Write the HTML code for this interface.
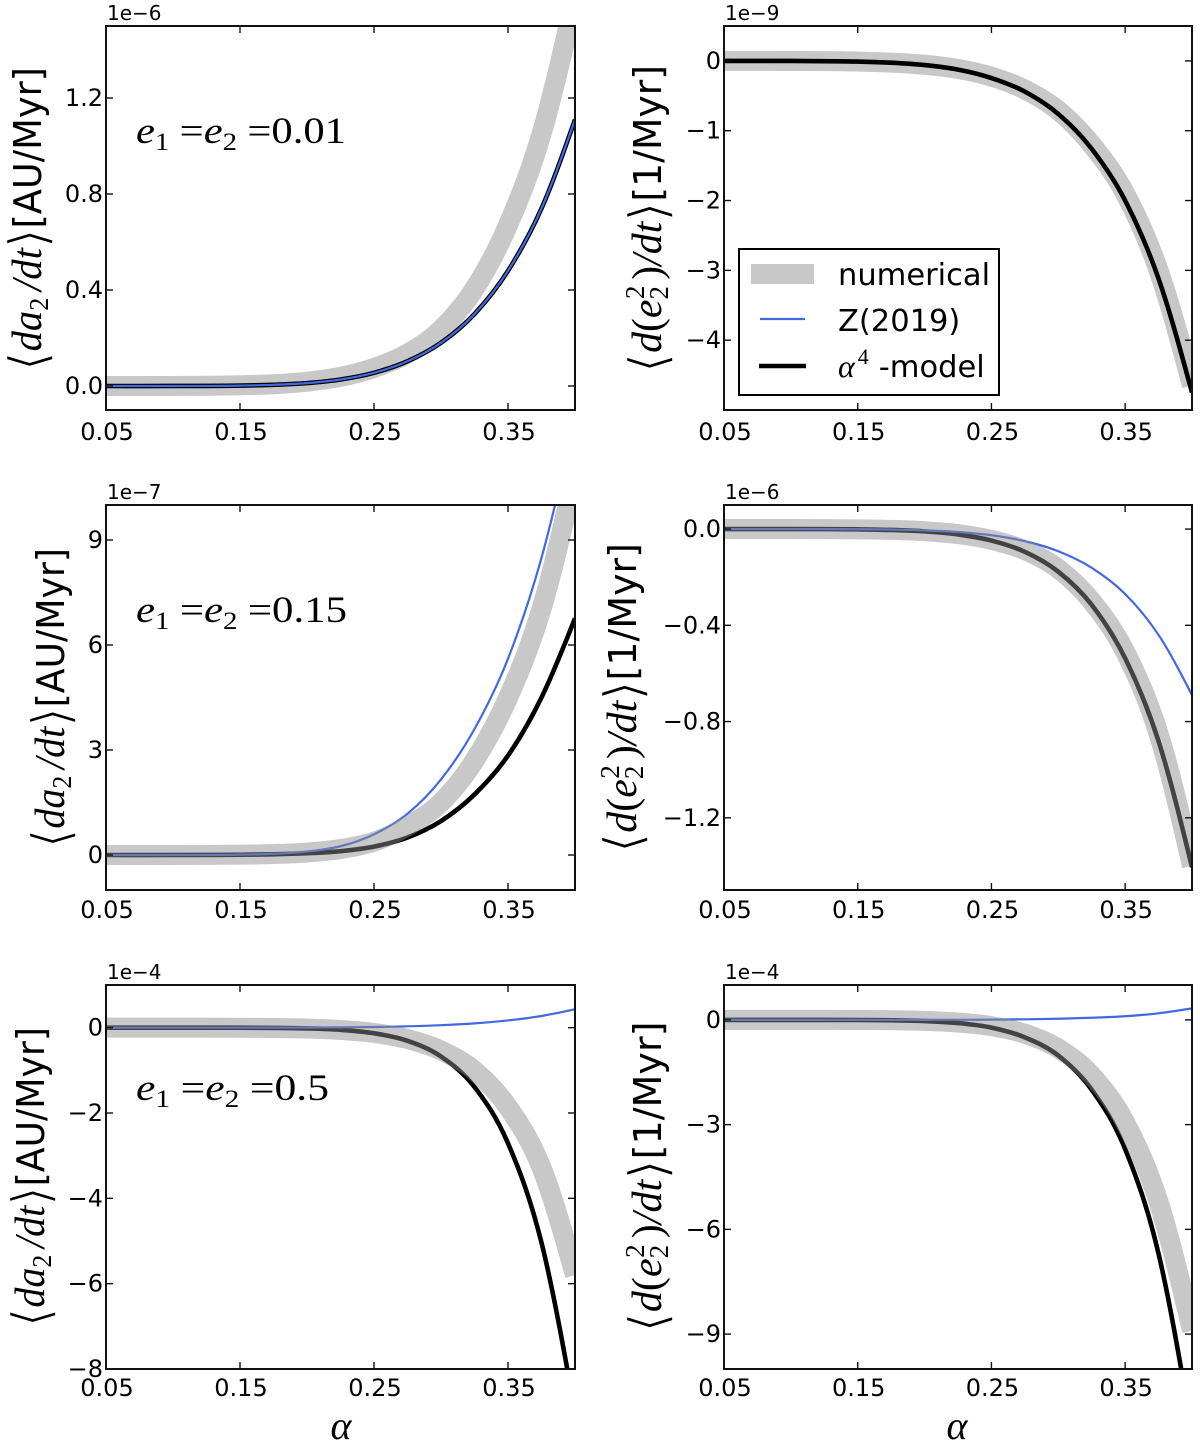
<!DOCTYPE html>
<html lang="en">
<head>
<meta charset="utf-8">
<title>Orbital evolution rates versus alpha</title>
<style>
  html, body { margin: 0; padding: 0; background: #fff; }
  svg { display: block; }
  text { fill: #000; }
  .sans { font-family: "DejaVu Sans", "Liberation Sans", sans-serif; }
  .math { font-family: "Liberation Serif", "DejaVu Serif", serif; font-style: italic; }
  .roman { font-family: "Liberation Serif", "DejaVu Serif", serif; }
  .br { stroke: #fff; stroke-width: 1.3px; }
</style>
</head>
<body>
<svg id="figure" xmlns="http://www.w3.org/2000/svg" width="1200" height="1444" viewBox="0 0 1200 1444">
  <defs id="clips"></defs>
  <rect x="0" y="0" width="1200" height="1444" fill="#fff"/>
  <g id="panels"></g>

  <!-- y-axis titles -->
  <text transform="translate(41,219) rotate(-90)" text-anchor="middle" textLength="304" lengthAdjust="spacingAndGlyphs"><tspan class="sans br" font-size="52" dy="5">⟨</tspan><tspan class="math" font-size="42" dy="-5">da</tspan><tspan class="roman" font-size="27" dy="7">2</tspan><tspan class="math" font-size="42" dy="-7" dx="7">/dt</tspan><tspan class="sans br" font-size="52" dy="5">⟩</tspan><tspan class="sans" font-size="38" dy="-5">[AU/Myr]</tspan></text>
  <text transform="translate(661,219) rotate(-90)" text-anchor="middle" textLength="308" lengthAdjust="spacingAndGlyphs"><tspan class="sans br" font-size="52" dy="5">⟨</tspan><tspan class="math" font-size="42" dy="-5">d</tspan><tspan class="roman" font-size="42">(</tspan><tspan class="math" font-size="42">e</tspan><tspan class="roman" font-size="27" dy="7">2</tspan><tspan class="roman" font-size="27" dy="-24" dx="-13">2</tspan><tspan class="roman" font-size="42" dy="17" dx="6">)</tspan><tspan class="math" font-size="42">/dt</tspan><tspan class="sans br" font-size="52" dy="5">⟩</tspan><tspan class="sans" font-size="38" dy="-5">[1/Myr]</tspan></text>
  <text transform="translate(64,698) rotate(-90)" text-anchor="middle" textLength="300" lengthAdjust="spacingAndGlyphs"><tspan class="sans br" font-size="52" dy="5">⟨</tspan><tspan class="math" font-size="42" dy="-5">da</tspan><tspan class="roman" font-size="27" dy="7">2</tspan><tspan class="math" font-size="42" dy="-7" dx="7">/dt</tspan><tspan class="sans br" font-size="52" dy="5">⟩</tspan><tspan class="sans" font-size="38" dy="-5">[AU/Myr]</tspan></text>
  <text transform="translate(636,698) rotate(-90)" text-anchor="middle" textLength="310" lengthAdjust="spacingAndGlyphs"><tspan class="sans br" font-size="52" dy="5">⟨</tspan><tspan class="math" font-size="42" dy="-5">d</tspan><tspan class="roman" font-size="42">(</tspan><tspan class="math" font-size="42">e</tspan><tspan class="roman" font-size="27" dy="7">2</tspan><tspan class="roman" font-size="27" dy="-24" dx="-13">2</tspan><tspan class="roman" font-size="42" dy="17" dx="6">)</tspan><tspan class="math" font-size="42">/dt</tspan><tspan class="sans br" font-size="52" dy="5">⟩</tspan><tspan class="sans" font-size="38" dy="-5">[1/Myr]</tspan></text>
  <text transform="translate(44,1177) rotate(-90)" text-anchor="middle" textLength="300" lengthAdjust="spacingAndGlyphs"><tspan class="sans br" font-size="52" dy="5">⟨</tspan><tspan class="math" font-size="42" dy="-5">da</tspan><tspan class="roman" font-size="27" dy="7">2</tspan><tspan class="math" font-size="42" dy="-7" dx="7">/dt</tspan><tspan class="sans br" font-size="52" dy="5">⟩</tspan><tspan class="sans" font-size="38" dy="-5">[AU/Myr]</tspan></text>
  <text transform="translate(661,1177) rotate(-90)" text-anchor="middle" textLength="311" lengthAdjust="spacingAndGlyphs"><tspan class="sans br" font-size="52" dy="5">⟨</tspan><tspan class="math" font-size="42" dy="-5">d</tspan><tspan class="roman" font-size="42">(</tspan><tspan class="math" font-size="42">e</tspan><tspan class="roman" font-size="27" dy="7">2</tspan><tspan class="roman" font-size="27" dy="-24" dx="-13">2</tspan><tspan class="roman" font-size="42" dy="17" dx="6">)</tspan><tspan class="math" font-size="42">/dt</tspan><tspan class="sans br" font-size="52" dy="5">⟩</tspan><tspan class="sans" font-size="38" dy="-5">[1/Myr]</tspan></text>

  <!-- eccentricity annotations -->
  <text x="136" y="143" textLength="210" lengthAdjust="spacingAndGlyphs"><tspan class="math" font-size="37">e</tspan><tspan class="roman" font-size="25" dy="7">1</tspan><tspan class="roman" font-size="37" dy="-7" dx="9">=</tspan><tspan class="math" font-size="37">e</tspan><tspan class="roman" font-size="25" dy="7">2</tspan><tspan class="roman" font-size="37" dy="-7" dx="9">=0.01</tspan></text>
  <text x="136" y="622" textLength="211" lengthAdjust="spacingAndGlyphs"><tspan class="math" font-size="37">e</tspan><tspan class="roman" font-size="25" dy="7">1</tspan><tspan class="roman" font-size="37" dy="-7" dx="9">=</tspan><tspan class="math" font-size="37">e</tspan><tspan class="roman" font-size="25" dy="7">2</tspan><tspan class="roman" font-size="37" dy="-7" dx="9">=0.15</tspan></text>
  <text x="136" y="1100" textLength="193" lengthAdjust="spacingAndGlyphs"><tspan class="math" font-size="37">e</tspan><tspan class="roman" font-size="25" dy="7">1</tspan><tspan class="roman" font-size="37" dy="-7" dx="9">=</tspan><tspan class="math" font-size="37">e</tspan><tspan class="roman" font-size="25" dy="7">2</tspan><tspan class="roman" font-size="37" dy="-7" dx="9">=0.5</tspan></text>

  <!-- x-axis titles -->
  <text class="math" x="341" y="1439" font-size="40" text-anchor="middle">α</text>
  <text class="math" x="957" y="1439" font-size="40" text-anchor="middle">α</text>

  <!-- legend -->
  <g>
    <rect x="739" y="249" width="260" height="146" fill="#fff" stroke="#000" stroke-width="2"/>
    <rect x="751" y="264" width="63" height="20" fill="#c8c8c8"/>
    <text class="sans" x="838" y="285" font-size="30.5">numerical</text>
    <line x1="760" y1="319" x2="805" y2="319" stroke="#4169e1" stroke-width="2.2"/>
    <text class="sans" x="838" y="331" font-size="30.5">Z(2019)</text>
    <line x1="759" y1="366" x2="806" y2="366" stroke="#000" stroke-width="4.6"/>
    <text x="838" y="377"><tspan class="math" font-size="32">α</tspan><tspan class="roman" font-size="22" dy="-13" dx="3">4</tspan><tspan class="sans" font-size="30.5" dy="13" dx="10">-model</tspan></text>
  </g>
</svg>

<script>
// ---- shared x samples (alpha) ----
const alphaValues = [0.05, 0.10, 0.15, 0.175, 0.20, 0.225, 0.25, 0.275, 0.30, 0.325, 0.35, 0.375, 0.40];
const xTicks = [0.05, 0.15, 0.25, 0.35];
const xTickLabels = ['0.05', '0.15', '0.25', '0.35'];

// ---- panel 1: da2/dt, e = 0.01 (x 1e-6) ----
const a1Numerical = [0, 0.0002, 0.003, 0.0074, 0.018, 0.038, 0.075, 0.135, 0.235, 0.405, 0.67, 1.05, 1.62];
const a1Zhou = [0, 0.0001, 0.0017, 0.005, 0.012, 0.027, 0.055, 0.103, 0.18, 0.30, 0.48, 0.74, 1.11];
const a1Model = [0, 0.0001, 0.0017, 0.005, 0.012, 0.027, 0.055, 0.103, 0.18, 0.30, 0.48, 0.74, 1.11];
const a1Ticks = [0, 0.4, 0.8, 1.2];
const a1TickLabels = ['0.0', '0.4', '0.8', '1.2'];

// ---- panel 2: d(e2^2)/dt, e = 0.01 (x 1e-9) ----
const e1Numerical = [0, -0.001, -0.009, -0.024, -0.055, -0.115, -0.225, -0.41, -0.71, -1.20, -1.90, -3.00, -4.65];
const e1Zhou = [0, -0.001, -0.01, -0.026, -0.06, -0.125, -0.245, -0.44, -0.76, -1.26, -2.00, -3.12, -4.75];
const e1Model = [0, -0.001, -0.01, -0.026, -0.06, -0.125, -0.245, -0.44, -0.76, -1.26, -2.00, -3.12, -4.75];
const e1Ticks = [0, -1, -2, -3, -4];
const e1TickLabels = ['0', '\u22121', '\u22122', '\u22123', '\u22124'];

// ---- panel 3: da2/dt, e = 0.15 (x 1e-7) ----
const a2Numerical = [0, 0, 0.01, 0.028, 0.07, 0.17, 0.38, 0.82, 1.50, 2.70, 4.49, 7.03, 10.9];
const a2Zhou = [0, 0, 0.01, 0.035, 0.098, 0.25, 0.59, 1.18, 2.16, 3.60, 5.61, 8.49, 12.5];
const a2Model = [0, 0, 0.007, 0.02, 0.05, 0.11, 0.24, 0.50, 0.97, 1.73, 2.84, 4.50, 6.76];
const a2Ticks = [0, 3, 6, 9];
const a2TickLabels = ['0', '3', '6', '9'];

// ---- panel 4: d(e2^2)/dt, e = 0.15 (x 1e-6) ----
const e2Numerical = [0, 0, -0.0012, -0.0035, -0.009, -0.021, -0.045, -0.088, -0.165, -0.30, -0.51, -0.85, -1.40];
const e2Zhou = [0, 0, -0.0007, -0.0021, -0.0054, -0.0123, -0.0257, -0.0501, -0.0922, -0.161, -0.27, -0.44, -0.69];
const e2Model = [0, 0, -0.0012, -0.0037, -0.0096, -0.0223, -0.0478, -0.0945, -0.177, -0.315, -0.537, -0.882, -1.405];
const e2Ticks = [0, -0.4, -0.8, -1.2];
const e2TickLabels = ['0.0', '\u22120.4', '\u22120.8', '\u22121.2'];

// ---- panel 5: da2/dt, e = 0.5 (x 1e-4) ----
const a3Numerical = [0, 0, -0.0021, -0.0072, -0.021, -0.0535, -0.124, -0.267, -0.535, -1.01, -1.86, -3.28, -5.80];
const a3Zhou = [0, 0, 0.0003, 0.0013, 0.0034, 0.0077, 0.016, 0.0313, 0.0575, 0.1005, 0.17, 0.274, 0.43];
const a3Model = [0, 0, -0.0013, -0.0053, -0.0176, -0.0507, -0.131, -0.309, -0.676, -1.39, -2.71, -5.04, -9.00];
const a3Ticks = [0, -2, -4, -6, -8];
const a3TickLabels = ['0', '\u22122', '\u22124', '\u22126', '\u22128'];

// ---- panel 6: d(e2^2)/dt, e = 0.5 (x 1e-4) ----
const e3Numerical = [0, 0, -0.0026, -0.0091, -0.0283, -0.0747, -0.18, -0.397, -0.817, -1.59, -2.94, -5.21, -8.90];
const e3Zhou = [0, 0, 0.0001, 0.0004, 0.0013, 0.0033, 0.0077, 0.0165, 0.033, 0.0625, 0.105, 0.19, 0.33];
const e3Model = [0, 0, -0.003, -0.01, -0.032, -0.09, -0.22, -0.50, -1.02, -2.00, -3.70, -6.70, -11.8];
const e3Ticks = [0, -3, -6, -9];
const e3TickLabels = ['0', '\u22123', '\u22126', '\u22129'];

// ---- layout ----
const xDomain = [0.05, 0.40];
const panels = [
  { id: 'a-low-e',  box: [106, 26, 575, 410],   yDomain: [-0.1, 1.5],  exp: '1e\u22126', numerical: a1Numerical, zhou: a1Zhou, model: a1Model, ticks: a1Ticks, labels: a1TickLabels, greyOnTop: false, xLabelY: 440 },
  { id: 'e-low-e',  box: [724, 26, 1192, 410],  yDomain: [-5, 0.5],    exp: '1e\u22129', numerical: e1Numerical, zhou: e1Zhou, model: e1Model, ticks: e1Ticks, labels: e1TickLabels, greyOnTop: false, xLabelY: 440 },
  { id: 'a-mid-e',  box: [106, 505, 575, 890],  yDomain: [-1, 10],     exp: '1e\u22127', numerical: a2Numerical, zhou: a2Zhou, model: a2Model, ticks: a2Ticks, labels: a2TickLabels, greyOnTop: true,  xLabelY: 918 },
  { id: 'e-mid-e',  box: [724, 505, 1192, 890], yDomain: [-1.5, 0.1],  exp: '1e\u22126', numerical: e2Numerical, zhou: e2Zhou, model: e2Model, ticks: e2Ticks, labels: e2TickLabels, greyOnTop: true,  xLabelY: 918 },
  { id: 'a-high-e', box: [106, 985, 575, 1369], yDomain: [-8, 1],      exp: '1e\u22124', numerical: a3Numerical, zhou: a3Zhou, model: a3Model, ticks: a3Ticks, labels: a3TickLabels, greyOnTop: true,  xLabelY: 1396 },
  { id: 'e-high-e', box: [724, 985, 1192, 1369], yDomain: [-10, 1],    exp: '1e\u22124', numerical: e3Numerical, zhou: e3Zhou, model: e3Model, ticks: e3Ticks, labels: e3TickLabels, greyOnTop: true,  xLabelY: 1396 }
];

const NS = 'http://www.w3.org/2000/svg';
function make(parent, tag, attrs) {
  const el = document.createElementNS(NS, tag);
  for (const k in attrs) el.setAttribute(k, attrs[k]);
  parent.appendChild(el);
  return el;
}

function smoothPath(values, sx, sy) {
  const xs = alphaValues.map(sx);
  const ys = values.map(sy);
  const n = xs.length;
  const slope = [];
  for (let i = 1; i < n - 1; i++) {
    // weighted three-point derivative, correct for uneven sample spacing
    const h0 = xs[i] - xs[i - 1], h1 = xs[i + 1] - xs[i];
    const s0 = (ys[i] - ys[i - 1]) / h0, s1 = (ys[i + 1] - ys[i]) / h1;
    slope[i] = (s0 * h1 + s1 * h0) / (h0 + h1);
  }
  slope[0] = (3 * (ys[1] - ys[0]) / (xs[1] - xs[0]) - slope[1]) / 2;
  slope[n - 1] = (3 * (ys[n - 1] - ys[n - 2]) / (xs[n - 1] - xs[n - 2]) - slope[n - 2]) / 2;
  let d = 'M' + xs[0].toFixed(2) + ' ' + ys[0].toFixed(2);
  for (let i = 0; i < n - 1; i++) {
    const dx = (xs[i + 1] - xs[i]) / 3;
    d += ' C' + (xs[i] + dx).toFixed(2) + ' ' + (ys[i] + slope[i] * dx).toFixed(2) +
         ' ' + (xs[i + 1] - dx).toFixed(2) + ' ' + (ys[i + 1] - slope[i + 1] * dx).toFixed(2) +
         ' ' + xs[i + 1].toFixed(2) + ' ' + ys[i + 1].toFixed(2);
  }
  return d;
}

const root = document.getElementById('panels');
const defs = document.getElementById('clips');

panels.forEach(function (p) {
  const left = p.box[0], top = p.box[1], right = p.box[2], bottom = p.box[3];
  const sx = function (v) { return left + (v - xDomain[0]) / (xDomain[1] - xDomain[0]) * (right - left); };
  const sy = function (v) { return bottom - (v - p.yDomain[0]) / (p.yDomain[1] - p.yDomain[0]) * (bottom - top); };

  const clip = make(defs, 'clipPath', { id: 'clip-' + p.id });
  make(clip, 'rect', { x: left, y: top, width: right - left, height: bottom - top });

  const g = make(root, 'g', {});
  
  

  const plot = make(g, 'g', { 'clip-path': 'url(#clip-' + p.id + ')' });
  
  

  function drawNumerical() {
    const el = make(plot, 'path', { d: smoothPath(p.numerical, sx, sy), fill: 'none', stroke: '#8d8d8d', 'stroke-opacity': '0.48', 'stroke-width': '20', 'stroke-linecap': 'butt', 'stroke-linejoin': 'round' });
    
    
  }
  function drawModel() {
    const el = make(plot, 'path', { d: smoothPath(p.model, sx, sy), fill: 'none', stroke: '#000', 'stroke-width': '4.6' });
    
    
  }
  function drawZhou() {
    const el = make(plot, 'path', { d: smoothPath(p.zhou, sx, sy), fill: 'none', stroke: '#4169e1', 'stroke-width': '2.2' });
    
    
  }
  if (p.greyOnTop) {
    drawModel();
    drawZhou();
    drawNumerical();
  } else {
    drawNumerical();
    drawModel();
    if (p.id === 'a-low-e') drawZhou();
  }

  const tickColor = '#111';
  xTicks.forEach(function (t, i) {
    const x = sx(t);
    const bt = make(g, 'line', { x1: x, x2: x, y1: bottom, y2: bottom - 7, stroke: tickColor, 'stroke-width': '1.4' });
    
    
    const tt = make(g, 'line', { x1: x, x2: x, y1: top, y2: top + 7, stroke: tickColor, 'stroke-width': '1.4' });
    
    
    const lab = make(g, 'text', { x: x + 1, y: p.xLabelY, 'text-anchor': 'middle', 'font-size': '24', class: 'sans' });
    
    
    lab.textContent = xTickLabels[i];
  });
  p.ticks.forEach(function (t, i) {
    const y = sy(t);
    const lt = make(g, 'line', { x1: left, x2: left + 7, y1: y, y2: y, stroke: tickColor, 'stroke-width': '1.4' });
    
    
    const rt = make(g, 'line', { x1: right, x2: right - 7, y1: y, y2: y, stroke: tickColor, 'stroke-width': '1.4' });
    
    
    const lab = make(g, 'text', { x: left - 3, y: y + 8, 'text-anchor': 'end', 'font-size': '24', class: 'sans' });
    
    
    lab.textContent = p.labels[i];
  });

  const frame = make(g, 'rect', { x: left, y: top, width: right - left, height: bottom - top, fill: 'none', stroke: '#111', 'stroke-width': '2' });
  
  

  const expo = make(g, 'text', { x: left + 1, y: top - 6, 'font-size': '20', class: 'sans' });
  
  
  expo.textContent = p.exp;
});
</script>
</body>
</html>
